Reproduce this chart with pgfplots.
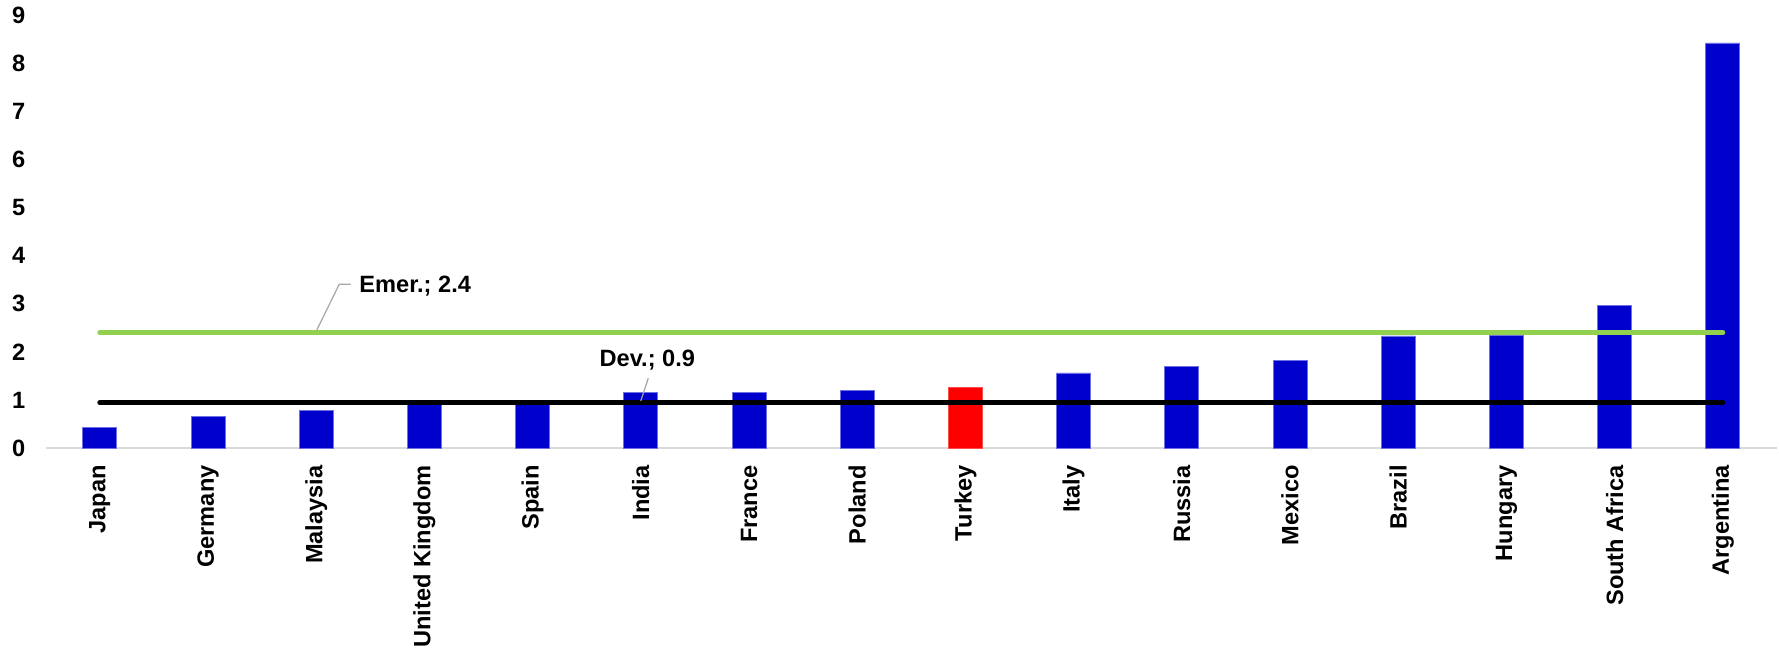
\documentclass[border=0pt]{standalone}
\usepackage{fontspec}
\setmainfont{Liberation Sans}
\usepackage{pgfplots}
\pgfplotsset{compat=1.18}
\definecolor{barblue}{RGB}{0,0,204}
\definecolor{baredge}{RGB}{110,110,230}
\definecolor{emgreen}{RGB}{146,208,80}
\definecolor{leader}{RGB}{166,166,166}
\definecolor{axgray}{RGB}{217,217,217}
\begin{document}
\begin{tikzpicture}
\begin{axis}[
  at={(0,0)}, anchor=south west,
  scale only axis,
  width=865.6pt, height=216.5pt,
  xmin=-0.5, xmax=15.5, ymin=0, ymax=9,
  axis x line*=bottom, axis y line*=left,
  axis line style={-},
  x axis line style={draw=axgray, line width=1pt},
  y axis line style={draw=none},
  major tick length=0pt,
  ytick={0,1,...,9},
  xtick={0,1,...,15},
  xticklabels={Japan,Germany,Malaysia,United Kingdom,Spain,India,France,Poland,Turkey,Italy,Russia,Mexico,Brazil,Hungary,South Africa,Argentina},
  ticklabel style={font=\fontsize{11.8pt}{14pt}\selectfont\bfseries, inner sep=0pt},
  xticklabel style={rotate=90, anchor=east},
  yticklabel style={anchor=east},
  xticklabel shift=8.5pt,
  yticklabel shift=10pt,
  /pgf/number format/assume math mode=true,
  clip=false,
]
\addplot[ybar, bar width=17pt, bar shift=0pt, fill=barblue, draw=baredge, line width=0.4pt]
  coordinates {(0,0.42) (1,0.66) (2,0.78) (3,0.93) (4,0.93) (5,1.16) (6,1.16) (7,1.20)
               (9,1.56) (10,1.70) (11,1.82) (12,2.33) (13,2.35) (14,2.97) (15,8.42)};
\addplot[ybar, bar width=17pt, bar shift=0pt, fill=red, draw=red!70!white, line width=0.4pt]
  coordinates {(8,1.25)};
\addplot[sharp plot, no marks, draw=emgreen, line width=2.5pt, line cap=round]
  coordinates {(0,2.4) (15,2.4)};
\addplot[sharp plot, no marks, draw=black, line width=2.5pt, line cap=round]
  coordinates {(0,0.94) (15,0.94)};
\draw[leader, line width=0.6pt] (axis cs:2.005,2.45) -- (axis cs:2.213,3.403) -- (axis cs:2.319,3.403);
\node[anchor=west, inner sep=0pt, font=\fontsize{11.8pt}{14pt}\selectfont\bfseries] at (axis cs:2.396,3.37) {Emer.; 2.4};
\draw[leader, line width=0.6pt] (axis cs:5.0,0.98) -- (axis cs:5.069,1.449);
\node[anchor=west, inner sep=0pt, font=\fontsize{11.8pt}{14pt}\selectfont\bfseries] at (axis cs:4.616,1.83) {Dev.; 0.9};
\end{axis}
\pgfresetboundingbox
\path (-22.85pt,-100.5pt) rectangle (866.65pt,224pt);
\end{tikzpicture}
\end{document}
